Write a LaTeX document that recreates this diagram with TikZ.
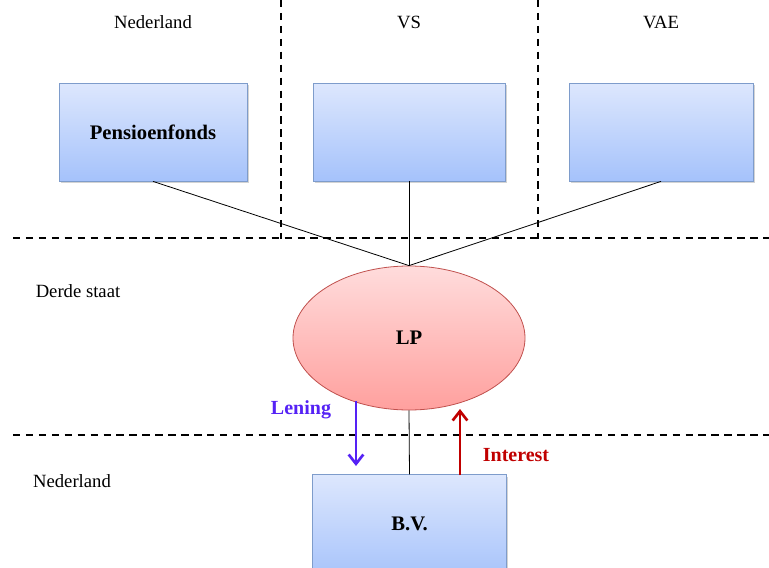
\documentclass[tikz,border=0pt]{standalone}
\usepackage{fontspec}
\setmainfont{Liberation Serif}
\usetikzlibrary{arrows.meta,shadows,shapes.geometric}
\definecolor{boxtop}{HTML}{DDE7FD}
\definecolor{boxbot}{HTML}{A5C2FB}
\definecolor{boxline}{HTML}{7E9CCB}
\definecolor{elltop}{HTML}{FFDCDC}
\definecolor{ellbot}{HTML}{FFA09E}
\definecolor{ellline}{HTML}{C0504D}
\definecolor{lenblue}{HTML}{5522F5}
\definecolor{intred}{HTML}{C00000}
\tikzset{
  entity/.style={draw=boxline, line width=0.6pt, top color=boxtop, bottom color=boxbot,
    drop shadow={shadow xshift=1.2pt, shadow yshift=-1.5pt, opacity=0.35},
    minimum width=141pt, minimum height=73.5pt, inner sep=0pt,
    font=\fontsize{15.5}{18}\selectfont\bfseries},
  fund/.style={draw=ellline, line width=0.6pt, top color=elltop, bottom color=ellbot,
    ellipse, minimum width=174pt, minimum height=108pt, inner sep=0pt,
    font=\fontsize{15.5}{18}\selectfont\bfseries},
  border/.style={line width=1.5pt, dash pattern=on 5.6pt off 4.1pt},
  region/.style={font=\fontsize{14}{17}\selectfont},
  link/.style={line width=0.6pt},
  flow/.style={line width=2pt, -{Straight Barb[length=7pt,width=11pt]}},
  flowlabel/.style={font=\fontsize{15}{18}\selectfont\bfseries}
}
\begin{document}
\begin{tikzpicture}[x=0.75pt,y=-0.75pt]
\useasboundingbox (0,0) rectangle (769,568);
\clip (0,0) rectangle (769,568);

% country borders
\draw[border] (281,0) -- (281,239);
\draw[border] (538,0) -- (538,239);
\draw[border] (13,238) -- (769,238);
\draw[border] (13,435) -- (769,435);

% region labels
\node[region] (nl1) at (153,22) {Nederland};
\node[region] (vs) at (409,22) {VS};
\node[region] (vae) at (661,22) {VAE};
\node[region] (ds) at (78,291) {Derde staat};
\node[region] (nl2) at (72,481) {Nederland};

% investors
\node[entity] (pf) at (153,132) {Pensioenfonds};
\node[entity, minimum width=144pt] (us) at (409,132) {};
\node[entity, minimum width=138pt] (uae) at (661,132) {};

% partnership
\node[fund] (lp) at (409,338) {LP};

% dutch company
\node[entity, minimum width=145pt, minimum height=80pt] (bv) at (409.5,528) {};
\node[font=\fontsize{15.5}{18}\selectfont\bfseries] (bvt) at (409.5,524) {B.V.};

% ownership lines
\draw[link] (pf.south) -- (lp.north);
\draw[link] (us.south) -- (lp.north);
\draw[link] (uae.south) -- (lp.north);
\draw[link] (lp.south) -- (bv.north);

% loan and interest flows
\coordinate (lenstart) at (356,401);
\coordinate (lenend) at (356,466);
\coordinate (intstart) at (460,475);
\coordinate (intend) at (460,409);
\draw[flow, draw=lenblue] (lenstart) -- (lenend);
\draw[flow, draw=intred] (intstart) -- (intend);
\node[flowlabel, text=lenblue] (len) at (301,410) {Lening};
\node[flowlabel, text=intred] (int) at (516,455) {Interest};
\end{tikzpicture}
\end{document}
